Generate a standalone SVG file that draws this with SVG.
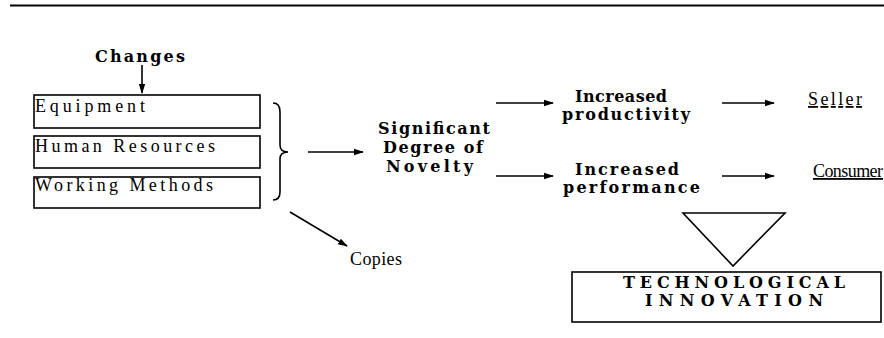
<svg xmlns="http://www.w3.org/2000/svg" width="884" height="338" viewBox="0 0 884 338">
<style>
.b{font-family:"DejaVu Serif","Liberation Serif",serif;font-weight:bold;font-size:16px;fill:#000}
.r{font-family:"Liberation Serif",serif;font-size:18px;fill:#000}
.box{fill:none;stroke:#000;stroke-width:1.6}
.ln{fill:none;stroke:#000;stroke-width:1.6}
</style>
<defs>
<marker id="ah" markerWidth="10" markerHeight="8" refX="9" refY="4" orient="auto" markerUnits="userSpaceOnUse">
<path d="M0,0.8 L10,4 L0,7.2 Z" fill="#000"/>
</marker>
</defs>
<rect width="884" height="338" fill="#fff"/>
<line x1="10" y1="5.5" x2="884" y2="5.5" stroke="#000" stroke-width="2"/>

<g id="changes"><text class="b" x="95" y="62" textLength="90" lengthAdjust="spacing" font-size="15">Changes</text></g>
<g id="equipment"><rect class="box" x="34" y="95" width="226" height="33"/><text class="r" x="35" y="112" textLength="110" lengthAdjust="spacing">Equipment</text></g>
<g id="human"><rect class="box" x="34" y="136" width="226" height="32"/><text class="r" x="35" y="152" textLength="180" lengthAdjust="spacing">Human Resources</text></g>
<g id="working"><rect class="box" x="34" y="177" width="226" height="31"/><text class="r" x="35" y="191" textLength="178" lengthAdjust="spacing">Working Methods</text></g>
<g id="brace"><path class="ln" stroke-width="2" d="M273,103 Q280,103 280,112 L280,145 Q280,152 288,152 Q280,152 280,159 L280,192 Q280,200 273,200"/></g>
<g id="novelty">
<text class="b" x="378" y="134" textLength="112" lengthAdjust="spacing">Significant</text>
<text class="b" x="383" y="153" textLength="100" lengthAdjust="spacing">Degree of</text>
<text class="b" x="386" y="172" textLength="87" lengthAdjust="spacing">Novelty</text>
</g>
<g id="copies"><text class="r" x="350" y="265" textLength="52" lengthAdjust="spacing" font-size="15">Copies</text></g>
<g id="productivity">
<text class="b" x="575" y="102" textLength="92" lengthAdjust="spacing">Increased</text>
<text class="b" x="562" y="120" textLength="128" lengthAdjust="spacing">productivity</text>
</g>
<g id="performance">
<text class="b" x="575" y="175" textLength="104" lengthAdjust="spacing">Increased</text>
<text class="b" x="563" y="193" textLength="137" lengthAdjust="spacing">performance</text>
</g>
<g id="seller"><text class="r" x="808" y="105" textLength="54" lengthAdjust="spacing" font-size="16" text-decoration="underline">Seller</text></g>
<g id="consumer"><text class="r" x="813" y="177" textLength="70" lengthAdjust="spacing" font-size="16" text-decoration="underline">Consumer</text></g>
<g id="triangle"><path class="ln" d="M683,213 L785,213 L733,266 Z"/></g>
<g id="innovation"><rect class="box" x="572" y="272" width="309" height="50"/>
<text class="b" x="623" y="288" textLength="222" lengthAdjust="spacing" font-size="15.5">TECHNOLOGICAL</text>
<text class="b" x="645" y="306" textLength="178" lengthAdjust="spacing" font-size="15.5">INNOVATION</text>
</g>
<g id="connectors">
<line class="ln" x1="142" y1="65" x2="142" y2="93" marker-end="url(#ah)"/>
<line class="ln" x1="308" y1="152" x2="363" y2="152" marker-end="url(#ah)"/>
<line class="ln" x1="290" y1="212" x2="347" y2="246" marker-end="url(#ah)"/>
<line class="ln" x1="496" y1="103" x2="553" y2="103" marker-end="url(#ah)"/>
<line class="ln" x1="496" y1="176" x2="553" y2="176" marker-end="url(#ah)"/>
<line class="ln" x1="722" y1="103" x2="774" y2="103" marker-end="url(#ah)"/>
<line class="ln" x1="722" y1="176" x2="774" y2="176" marker-end="url(#ah)"/>
</g>
</svg>
